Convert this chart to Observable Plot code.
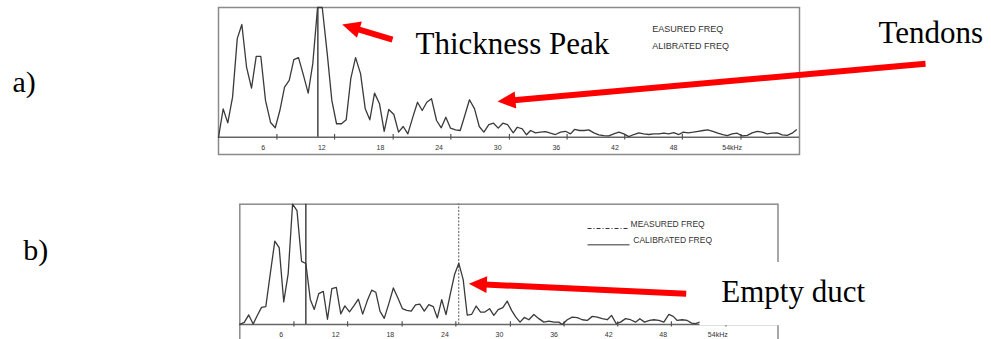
<!DOCTYPE html>
<html><head><meta charset="utf-8">
<script src="https://cdn.jsdelivr.net/npm/d3@7"></script>
<script src="https://cdn.jsdelivr.net/npm/@observablehq/plot@0.6"></script>
<style>
html,body{margin:0;padding:0;background:#fff;overflow:hidden;width:991px;height:339px;}
#wrap{position:relative;width:991px;height:339px;overflow:hidden;}
#wrap svg{position:absolute;left:0;background:transparent;}
</style></head><body><div id="wrap"></div>
<script>
// ---- data (kHz on the plotted frequency axis, relative amplitude %) ----
const freqA = [1.42,1.90,2.37,2.86,3.34,3.81,4.29,4.80,5.28,5.75,
6.23,6.75,7.23,7.70,8.18,8.66,9.13,9.61,10.12,10.60,
11.07,11.56,12.04,12.55,13.02,13.50,14.01,14.49,14.96,15.45,
15.96,16.44,16.91,17.39,17.90,18.38,18.85,19.37,19.85,20.33,
20.80,21.31,21.79,22.27,22.74,23.22,23.74,24.22,24.69,25.17,
25.68,26.16,26.63,27.11,27.63,28.11,28.58,29.09,29.57,30.05,
30.52,31.00,
31.59,32.00,32.51,32.95,33.36,33.87,34.38,34.89,35.40,35.91,
36.43,36.94,37.45,37.86,38.37,38.88,39.32,39.84,40.35,40.86,
41.37,41.88,42.40,42.91,43.42,43.93,44.44,44.95,45.47,45.98,
46.49,47.00,47.51,48.02,48.54,48.99,49.50,50.01,50.52,51.03,
51.50,52.02,52.53,53.04,53.49,54.00,54.51,55.03,55.54,56.05,
56.56,57.07,57.58,58.10,58.61,59.12,59.63,60.14,60.58];
const ampA = [0,21.9,11.1,30.9,76.0,86.9,54.1,37.9,62.4,62.4,
28.4,11.4,7.3,20.6,38.6,43.8,59.8,61.4,47.7,34.0,
56.7,100,100,64.5,28.4,10.4,10.4,13.4,45.1,61.4,
49.0,21.9,13.4,34.0,25.8,4.6,21.4,17.5,3.9,8.3,
2.6,15.5,27.0,20.6,27.0,29.7,12.9,7.3,15.5,7.0,
5.7,5.2,16.8,28.9,21.9,8.3,3.9,9.8,10.8,7.0,
10.8,9.8,
3.4,7.7,6.5,1.9,5.2,3.4,3.9,4.4,3.1,2.1,
3.9,4.6,2.6,6.0,5.2,5.2,5.7,3.4,1.9,1.3,
1.1,2.6,3.9,2.6,0.5,2.1,3.4,2.6,2.1,2.6,
2.6,3.1,2.6,3.6,2.1,3.9,3.4,3.9,4.6,5.2,
5.7,4.6,3.1,2.1,1.3,2.6,3.1,1.1,1.5,3.4,
4.6,3.9,2.6,3.1,3.4,1.9,1.5,3.1,5.7];

const freqB = [1.45,1.94,2.43,2.92,3.40,3.84,4.31,4.79,5.30,5.78,
6.28,6.77,7.25,7.74,8.24,8.71,9.20,9.64,10.13,10.63,
11.09,11.57,12.06,12.55,13.00,13.51,14.01,14.48,14.96,15.47,
15.95,16.40,16.87,17.33,17.86,18.33,18.82,19.32,19.80,20.30,
20.77,21.24,21.73,22.23,22.72,23.17,23.65,24.12,24.62,25.06,
25.53,26.01,26.45,26.93,27.44,27.92,28.39,28.91,29.38,29.86,
30.37,30.85,31.33,31.80,32.26,32.73,33.23,33.78,34.33,34.88,
35.43,35.98,36.53,36.90,37.45,38.00,38.55,39.10,39.65,40.20,
40.75,41.30,41.85,42.32,42.84,43.31,43.86,44.41,44.96,45.43,
45.95,46.50,46.97,47.52,48.07,48.62,49.10,49.54,50.09,50.64,
51.12,51.56,52.03];
const ampB = [0,1.7,7.9,0.4,7.8,14.2,14.8,41.7,69.3,63.9,
18.8,42.3,100,94.6,52.5,50.7,20.8,12.5,25.6,27.5,
4.3,29.8,30.8,8.8,15.4,10.4,15.7,21.0,8.6,19.8,
28.5,26.8,10.8,5.0,17.9,30.3,22.1,13.2,11.7,11.0,
16.3,16.9,11.1,16.5,14.8,5.4,20.6,8.2,26.3,41.5,
50.8,37.3,7.8,8.3,15.3,10.3,10.3,13.1,7.5,12.3,
13.9,19.4,11.7,6.1,1.9,5.8,3.9,8.3,4.8,1.9,
2.8,1.9,1.9,0,3.9,6.1,5.6,3.9,3.3,6.7,
6.1,4.8,3.9,7.5,0.6,1.9,4.8,3.9,1.9,4.8,
1.9,3.3,3.9,3.3,1.9,8.3,6.7,3.3,3.9,3.3,
1.1,0.6,1.9];

const tickLabelValues = [6,12,18,24,30,36,42,48,54];
const tickLabels = ["6","12","18","24","30","36","42","48","54kHz"];
const tickMarkValues = [7.4,13.3,19.3,25.2,31.2,37.1,43.0,48.9,54.9];
const calibratedA = 11.59;
const calibratedB = 8.71;
const measuredB = 25.52;
const legendTextsA = ["EASURED FREQ","ALIBRATED FREQ"];
const legendTextsB = ["MEASURED FREQ","CALIBRATED FREQ"];

// ---- layout ----
const W = 991;
const SANS = "Liberation Sans, Arial, Helvetica, sans-serif";
const SERIF = "Liberation Serif, Times New Roman, Times, serif";
const RED = "#ff0000";
const LINE = "#3a3a3a";

const cfgA = {top:0, height:170, ml:218, mr:192, mt:7, mb:16, xDomain:[1.42,60.89], yDomain:[-13.3,100], labelY:-7.9};
const cfgB = {top:170, height:180, ml:239.3, mr:213.5, mt:33.7, mb:9, xDomain:[1.45,60.62], yDomain:[-14.2,100], labelY:-8.4};

function scalesOf(c){
  return {
    sx: d3.scaleLinear(c.xDomain, [c.ml, W - c.mr]),
    sy: d3.scaleLinear(c.yDomain, [c.height - c.mb, c.mt])
  };
}

function arrowMarks(c, tip, tail, headLen, headW, shaftW){
  const {sx, sy} = scalesOf(c);
  const P = [sx(tip[0]), sy(tip[1])], Q = [sx(tail[0]), sy(tail[1])];
  const dx = Q[0]-P[0], dy = Q[1]-P[1], L = Math.hypot(dx,dy);
  const ux = dx/L, uy = dy/L, nx = -uy, ny = ux;
  const B = [P[0]+ux*headLen, P[1]+uy*headLen];
  const tri = [P, [B[0]+nx*headW/2, B[1]+ny*headW/2], [B[0]-nx*headW/2, B[1]-ny*headW/2]]
    .map(([x,y]) => ({x: sx.invert(x), y: sy.invert(y)}));
  const s0 = {x: sx.invert(B[0]-ux*2), y: sy.invert(B[1]-uy*2)};
  return [
    Plot.link([{x1:s0.x, y1:s0.y, x2:tail[0], y2:tail[1]}], {x1:"x1", y1:"y1", x2:"x2", y2:"y2", stroke:RED, strokeWidth:shaftW, strokeLinecap:"butt"}),
    Plot.line(tri, {x:"x", y:"y", fill:RED, stroke:"none", curve:"linear"})
  ];
}

function axisMarks(c){
  const labels = tickLabelValues.map((v,i) => ({x:v, y:c.labelY, t:tickLabels[i]}));
  return [
    Plot.frame({stroke:"#8a8a8a", strokeWidth:1.5}),
    Plot.ruleY([0], {stroke:"#666", strokeWidth:1.4}),
    Plot.ruleX(tickMarkValues, {x:d=>d, y1:-2.2, y2:2.2, stroke:"#555", strokeWidth:1.2}),
    Plot.text(labels, {x:"x", y:"y", text:"t", fontSize:7, fill:"#333", fontFamily:SANS, lineAnchor:"middle"})
  ];
}

function render(c, marks){
  const p = Plot.plot({
    width: W, height: c.height,
    marginLeft: c.ml, marginRight: c.mr, marginTop: c.mt, marginBottom: c.mb,
    x: {type:"linear", domain:c.xDomain, axis:null},
    y: {type:"linear", domain:c.yDomain, axis:null},
    style: {background:"transparent", overflow:"visible"},
    marks
  });
  p.style.top = c.top + "px";
  document.getElementById("wrap").appendChild(p);
}

// ---- panel a ----
const dataA = freqA.map((f,i) => ({f, a: ampA[i]}));
render(cfgA, [
  ...axisMarks(cfgA),
  Plot.ruleX([calibratedA], {x:d=>d, y1:0, y2:100, stroke:"#444", strokeWidth:1.5}),
  Plot.line(dataA, {x:"f", y:"a", stroke:LINE, strokeWidth:1.3}),
  Plot.text([{x:45.81, y:83.0, t:legendTextsA[0]}, {x:45.81, y:69.9, t:legendTextsA[1]}],
    {x:"x", y:"y", text:"t", textAnchor:"start", lineAnchor:"middle", fontSize:9, fill:"#333", fontFamily:SANS}),
  ...arrowMarks(cfgA, [14.08,86.9], [19.23,75.3], 18, 17, 6),
  ...arrowMarks(cfgA, [29.98,27.5], [73.79,56.6], 18, 17, 6),
  Plot.text([{x:21.59, y:64.3, t:"Thickness Peak"}, {x:68.98, y:72.8, t:"Tendons"}],
    {x:"x", y:"y", text:"t", textAnchor:"start", lineAnchor:"bottom", fontSize:31, fill:"#000", fontFamily:SERIF}),
  Plot.text([{x:-19.66, y:34.7, t:"a)"}],
    {x:"x", y:"y", text:"t", textAnchor:"start", lineAnchor:"bottom", fontSize:30, fill:"#000", fontFamily:SERIF})
]);

// ---- panel b ----
const dataB = freqB.map((f,i) => ({f, a: ampB[i]}));
render(cfgB, [
  ...axisMarks(cfgB),
  Plot.ruleX([calibratedB], {x:d=>d, y1:0, y2:100, stroke:"#444", strokeWidth:1.5}),
  Plot.ruleX([measuredB], {x:d=>d, y1:0, y2:100, stroke:"#555", strokeWidth:1, strokeDasharray:"2,1.5"}),
  Plot.line(dataB, {x:"f", y:"a", stroke:LINE, strokeWidth:1.3}),
  Plot.link([{x1:39.68, x2:44.16, y:79.8}], {x1:"x1", x2:"x2", y1:"y", y2:"y", stroke:"#333", strokeWidth:1, strokeDasharray:"4,2,1,2"}),
  Plot.link([{x1:39.68, x2:44.30, y:66.2}], {x1:"x1", x2:"x2", y1:"y", y2:"y", stroke:"#333", strokeWidth:1}),
  Plot.text([{x:44.41, y:83.1, t:legendTextsB[0]}, {x:44.71, y:69.6, t:legendTextsB[1]}],
    {x:"x", y:"y", text:"t", textAnchor:"start", lineAnchor:"middle", fontSize:8.5, fill:"#333", fontFamily:SANS}),
  Plot.rect([{x1:52.05, x2:72, y1:-1.06, y2:51.5}], {x1:"x1", x2:"x2", y1:"y1", y2:"y2", fill:"#fff"}),
  ...arrowMarks(cfgB, [26.63,33.8], [50.53,25.5], 18, 17, 6),
  Plot.text([{x:54.38, y:18.5, t:"Empty duct"}],
    {x:"x", y:"y", text:"t", textAnchor:"start", lineAnchor:"bottom", fontSize:31, fill:"#000", fontFamily:SERIF}),
  Plot.text([{x:-22.36, y:53.6, t:"b)"}],
    {x:"x", y:"y", text:"t", textAnchor:"start", lineAnchor:"bottom", fontSize:30, fill:"#000", fontFamily:SERIF})
]);
</script></body></html>
